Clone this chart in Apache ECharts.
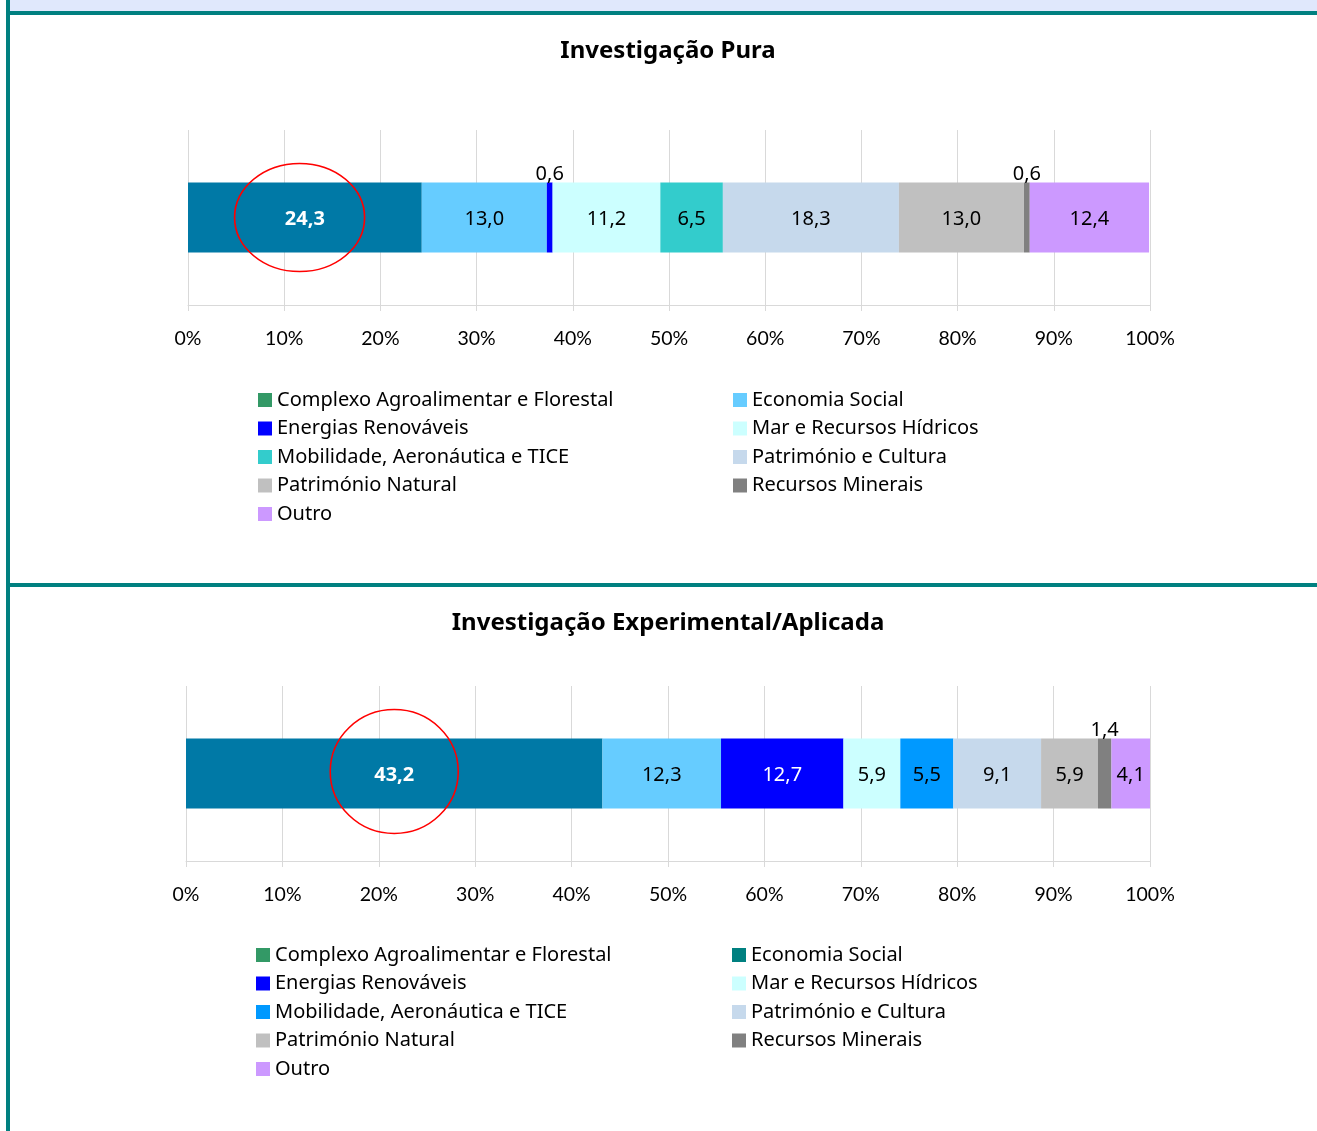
<!DOCTYPE html>
<html>
<head>
<meta charset="utf-8">
<script src="https://cdn.jsdelivr.net/npm/echarts@6/dist/echarts.min.js"></script>
<style>
  html, body { margin: 0; padding: 0; background: #fff; }
  #main { width: 1317px; height: 1131px; }
</style>
</head>
<body>
<div id="main"></div>
<script>
// dados (percentagens)
var categorias = ['Complexo Agroalimentar e Florestal', 'Economia Social', 'Energias Renováveis',
  'Mar e Recursos Hídricos', 'Mobilidade, Aeronáutica e TICE', 'Património e Cultura',
  'Património Natural', 'Recursos Minerais', 'Outro'];
var valoresPura = [24.3, 13.0, 0.6, 11.2, 6.5, 18.3, 13.0, 0.6, 12.4];
var valoresAplicada = [43.2, 12.3, 12.7, 5.9, 5.5, 9.1, 5.9, 1.4, 4.1];

var coresPura = ['#0079A6', '#66CCFF', '#0000FF', '#CCFFFF', '#33CCCC', '#C6D9EC', '#C0C0C0', '#808080', '#CC99FF'];
var coresAplicada = ['#0079A6', '#66CCFF', '#0000FF', '#CCFFFF', '#0099FF', '#C6D9EC', '#C0C0C0', '#808080', '#CC99FF'];
// as cores da legenda não batem certo com as barras no original
var legendaPura = ['#339966', '#66CCFF', '#0000FF', '#CCFFFF', '#33CCCC', '#C6D9EC', '#C0C0C0', '#808080', '#CC99FF'];
var legendaAplicada = ['#339966', '#008080', '#0000FF', '#CCFFFF', '#0099FF', '#C6D9EC', '#C0C0C0', '#808080', '#CC99FF'];

var titulos = ['Investigação Pura', 'Investigação Experimental/Aplicada'];

var fonte = 'Lato, "Noto Sans", sans-serif';
var fonteNoto = '"Noto Sans", sans-serif';
var teal = '#008080';

var myChart = echarts.init(document.getElementById('main'));

function fmt(v) { return v.toFixed(1).replace('.', ','); }

function serie(nome, valor, cor, idx, stack) {
  var pequeno = valor < 2;
  var branco = (cor === '#0079A6' || cor === '#0000FF') && !pequeno;
  return {
    name: nome,
    type: 'bar',
    stack: stack,
    xAxisIndex: idx,
    yAxisIndex: idx,
    barWidth: 70,
    data: [valor],
    itemStyle: { color: cor },
    label: {
      show: true,
      position: pequeno ? 'top' : 'inside',
      distance: 0,
      offset: [0, 2],
      formatter: function (p) { return fmt(p.value); },
      color: branco ? '#fff' : '#000',
      fontWeight: cor === '#0079A6' ? 'bold' : 'normal',
      fontFamily: fonteNoto,
      fontSize: 20
    },
    emphasis: { disabled: true }
  };
}

function legenda(nomes, cores, left, top) {
  return {
    orient: 'vertical',
    left: left,
    top: top,
    padding: 0,
    itemWidth: 14,
    itemHeight: 14,
    itemGap: 8.5,
    icon: 'rect',
    textStyle: { fontFamily: fonteNoto, fontSize: 20, color: '#000' },
    data: nomes.map(function (n) {
      return { name: n, itemStyle: { color: cores[categorias.indexOf(n)] } };
    })
  };
}

var colEsq = [categorias[0], categorias[2], categorias[4], categorias[6], categorias[8]];
var colDir = [categorias[1], categorias[3], categorias[5], categorias[7]];

var eixoX = function (idx) {
  return {
    type: 'value', gridIndex: idx, min: 0, max: 100, interval: 10,
    axisLine: { show: true, lineStyle: { color: '#D9D9D9', width: 1 } },
    axisTick: { show: true, length: 6, lineStyle: { color: '#D9D9D9' } },
    splitLine: { show: true, lineStyle: { color: '#D9D9D9', width: 1 } },
    axisLabel: { formatter: '{value}%', color: '#000', fontFamily: fonte, fontSize: 19.5, margin: 24 }
  };
};
var eixoY = function (idx) {
  return {
    type: 'category', gridIndex: idx, data: [''],
    axisLine: { show: false }, axisTick: { show: false }, axisLabel: { show: false }
  };
};

var series = [];
categorias.forEach(function (c, i) { series.push(serie(c, valoresPura[i], coresPura[i], 0, 'pura')); });
categorias.forEach(function (c, i) { series.push(serie(c, valoresAplicada[i], coresAplicada[i], 1, 'aplicada')); });

option = {
  animation: false,
  backgroundColor: '#fff',
  grid: [
    { left: 188, right: 167, top: 130, height: 175 },
    { left: 186, right: 167, top: 686, height: 175 }
  ],
  xAxis: [eixoX(0), eixoX(1)],
  yAxis: [eixoY(0), eixoY(1)],
  legend: [
    legenda(colEsq, legendaPura, 258, 390),
    legenda(colDir, legendaPura, 733, 390),
    legenda(colEsq, legendaAplicada, 256, 945),
    legenda(colDir, legendaAplicada, 732, 945)
  ],
  series: series
};
myChart.setOption(option);

// moldura, títulos e elipses vermelhas
var c1 = myChart.convertToPixel({ xAxisIndex: 0, yAxisIndex: 0 }, [11.6, 0]);
var c2 = myChart.convertToPixel({ xAxisIndex: 1, yAxisIndex: 1 }, [21.6, 0]);

myChart.setOption({
  graphic: [
    { type: 'rect', shape: { x: 10, y: 0, width: 1307, height: 11 }, style: { fill: '#E0E8FC' }, silent: true },
    { type: 'rect', shape: { x: 10, y: 11, width: 1307, height: 4 }, style: { fill: teal }, silent: true },
    { type: 'rect', shape: { x: 6, y: 0, width: 4, height: 1131 }, style: { fill: teal }, silent: true },
    { type: 'rect', shape: { x: 10, y: 583, width: 1307, height: 4 }, style: { fill: teal }, silent: true },
    { type: 'text', x: 668, y: 51, style: { text: titulos[0], font: 'bold 24px "Noto Sans", sans-serif', fill: '#000', textAlign: 'center', textVerticalAlign: 'middle' } },
    { type: 'text', x: 668, y: 623, style: { text: titulos[1], font: 'bold 24px "Noto Sans", sans-serif', fill: '#000', textAlign: 'center', textVerticalAlign: 'middle' } },
    { type: 'circle', x: c1[0], y: c1[1], scaleX: 65 / 54, shape: { cx: 0, cy: 0, r: 54 }, style: { fill: 'none', stroke: '#FF0000', lineWidth: 1.5 / 1.1 }, z: 100 },
    { type: 'circle', x: c2[0], y: c2[1] - 2, scaleX: 64 / 62, shape: { cx: 0, cy: 0, r: 62 }, style: { fill: 'none', stroke: '#FF0000', lineWidth: 1.5 }, z: 100 }
  ]
});
</script>
</body>
</html>
